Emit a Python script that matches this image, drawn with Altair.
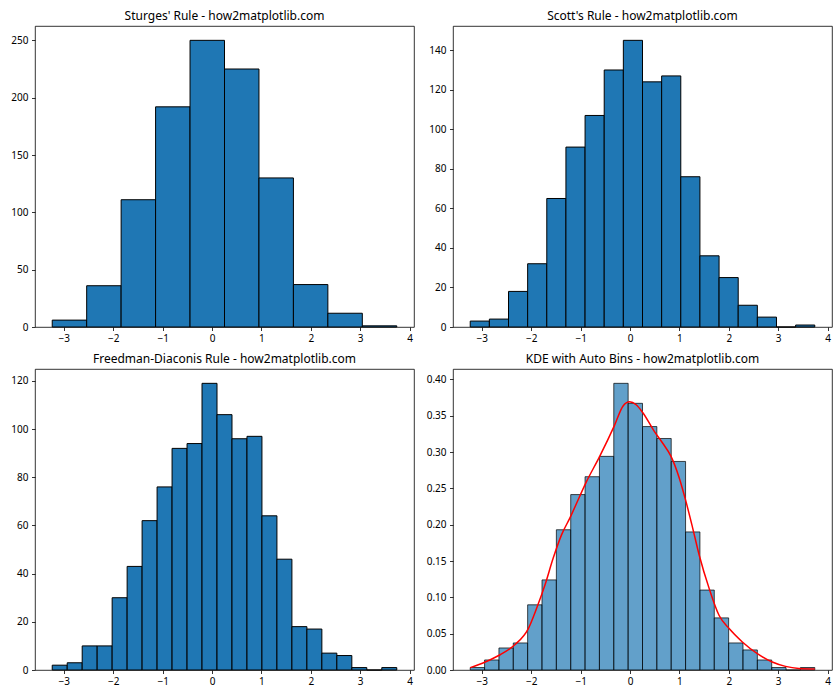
import altair as alt
import pandas as pd
import numpy as np

# ---------------- data ----------------
DATA_MIN = -3.235
DATA_MAX = 3.74

titles = [
    "Sturges' Rule - how2matplotlib.com",
    "Scott's Rule - how2matplotlib.com",
    "Freedman-Diaconis Rule - how2matplotlib.com",
    "KDE with Auto Bins - how2matplotlib.com",
]

sturges_counts = [6, 36, 111, 192, 250, 225, 130, 37, 12, 1]
scott_counts = [3, 4, 18, 32, 65, 91, 107, 130, 145, 124, 127, 76, 36, 25, 11, 5, 0, 1]
fd_counts = [2, 3, 10, 10, 30, 43, 62, 76, 92, 94, 119, 106, 96, 97, 64, 46,
             18, 17, 7, 6, 1, 0, 1]
auto_density = [0.0034, 0.0138, 0.0303, 0.0372, 0.0897, 0.124, 0.193, 0.2414,
                0.266, 0.294, 0.3945, 0.367, 0.335, 0.3186, 0.287, 0.190,
                0.110, 0.0717, 0.0372, 0.0276, 0.0138, 0.0034, 0.0, 0.0034]

kde_x = [-3.234, -2.932, -2.629, -2.327, -2.059, -1.891, -1.722, -1.555, -1.387,
         -1.219, -0.884, -0.614, -0.312, -0.144, -0.009, 0.124, 0.26, 0.495,
         0.662, 0.830, 0.998, 1.132, 1.266, 1.401, 1.603, 1.804, 2.006, 2.274,
         2.577, 2.879, 3.147, 3.417, 3.74]
kde_y = [0.0032, 0.011, 0.021, 0.035, 0.057, 0.085, 0.117, 0.154, 0.186,
         0.209, 0.259, 0.294, 0.337, 0.363, 0.369, 0.365, 0.354, 0.328,
         0.312, 0.294, 0.264, 0.232, 0.196, 0.158, 0.112, 0.075, 0.057, 0.0386,
         0.0225, 0.011, 0.005, 0.0022, 0.0015]

x_ticks = [-3, -2, -1, 0, 1, 2, 3, 4]
y_ticks_sturges = [0, 50, 100, 150, 200, 250]
y_ticks_scott = [0, 20, 40, 60, 80, 100, 120, 140]
y_ticks_fd = [0, 20, 40, 60, 80, 100, 120]
y_ticks_kde = [0.0, 0.05, 0.10, 0.15, 0.20, 0.25, 0.30, 0.35, 0.40]

# ---------------- styling ----------------
FONT = "Noto Sans"
W, H = 379, 301
BLUE = "#1f77b4"

rng = DATA_MAX - DATA_MIN
x_domain = [DATA_MIN - 0.05 * rng, DATA_MAX + 0.05 * rng]


def bars_frame(values):
    edges = np.linspace(DATA_MIN, DATA_MAX, len(values) + 1)
    return pd.DataFrame({"x0": edges[:-1], "x1": edges[1:], "v": values})


def panel(values, title, yticks, yfmt, ymax, alpha=1.0, kde=None):
    df = bars_frame(values)
    xs = alt.Scale(domain=x_domain, nice=False, zero=False)
    ys = alt.Scale(domain=[0, ymax * 1.05], nice=False)
    xaxis = alt.Axis(values=x_ticks, format="d", title=None, grid=False,
                     domain=False, tickSize=3.5, tickColor="black", tickWidth=0.8,
                     labelPadding=3, labelFontSize=10, labelColor="black",
                     labelFont=FONT, labelFlush=False, labelOverlap=False)
    yaxis = alt.Axis(values=yticks, format=yfmt, title=None, grid=False,
                     domain=False, tickSize=3.5, tickColor="black", tickWidth=0.8,
                     labelPadding=3.5, labelFontSize=10, labelColor="black",
                     labelFont=FONT, labelOverlap=False, labelFlush=False,
                     minExtent=30, maxExtent=30)
    bars = alt.Chart(df).mark_rect(
        fill=BLUE, fillOpacity=alpha, stroke="black", strokeOpacity=alpha,
        strokeWidth=1
    ).encode(
        x=alt.X("x0:Q", scale=xs, axis=xaxis),
        x2="x1:Q",
        y=alt.Y("v:Q", scale=ys, axis=yaxis),
        y2=alt.datum(0),
    )
    layers = [bars]
    if kde is not None:
        kdf = pd.DataFrame({"x": kde[0], "y": kde[1]})
        line = alt.Chart(kdf).mark_line(
            color="red", strokeWidth=1.5, interpolate="monotone"
        ).encode(x=alt.X("x:Q", scale=xs, axis=xaxis),
                 y=alt.Y("y:Q", scale=ys, axis=yaxis))
        layers.append(line)
    return alt.layer(*layers).properties(
        width=W, height=H,
        title=alt.TitleParams(title, fontSize=12, font=FONT, fontWeight="normal",
                              color="black", anchor="middle", frame="group",
                              offset=-6, baseline="alphabetic"),
    )


p1 = panel(sturges_counts, titles[0], y_ticks_sturges, "d", max(sturges_counts))
p2 = panel(scott_counts, titles[1], y_ticks_scott, "d", max(scott_counts))
p3 = panel(fd_counts, titles[2], y_ticks_fd, "d", max(fd_counts))
p4 = panel(auto_density, titles[3], y_ticks_kde, ".2f",
           max(max(auto_density), max(kde_y)), alpha=0.7, kde=(kde_x, kde_y))

chart = alt.vconcat(
    alt.hconcat(p1, p2, spacing=7),
    alt.hconcat(p3, p4, spacing=7),
    spacing=8,
).properties(
    padding={"left": 4, "top": 9, "right": 5, "bottom": 5},
    background="white",
).configure_view(stroke="black", strokeWidth=0.8)

chart.save("out.html", embed_options={"renderer": "svg", "actions": False})
